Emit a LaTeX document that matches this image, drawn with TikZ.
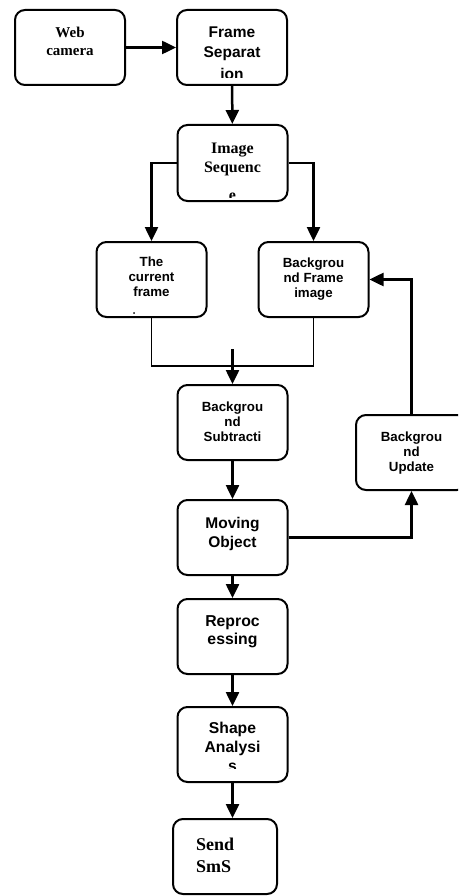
\documentclass[tikz,border=0pt]{standalone}
\usepackage{fontspec}
\usepackage{tikz}
\usetikzlibrary{arrows.meta, calc}
\newfontfamily\lblsans{Liberation Sans}
\newfontfamily\lblserif{Liberation Serif}
\tikzset{
  arr/.style={-{Triangle[length=14pt,width=13pt]}, line width=2.5pt},
  feed/.style={line width=1.1pt},
  procbox/.style={rectangle, rounded corners=10pt, draw, line width=2pt, minimum width=110pt, minimum height=75pt, inner sep=0pt},
  sanslbl/.style 2 args={font=\lblsans\bfseries\fontsize{#1}{#2}\selectfont, align=center, inner sep=0pt, anchor=north},
  seriflbl/.style 2 args={font=\lblserif\bfseries\fontsize{#1}{#2}\selectfont, align=center, inner sep=0pt, anchor=north},
}
% name, clip inset, top offset, label style, text
\newcommand{\boxtext}[5]{%
  \begin{scope}
    \clip ($(#1.south west)+(0,-#2)$) rectangle (#1.north east);
    \node[#4] (#1-txt) at ($(#1.north)+(0,#3)$) {#5};
  \end{scope}}

\begin{document}
\begin{tikzpicture}[x=1pt, y=-1pt]
  \clip (0,0) rectangle (458,896);

  % Boxes
  \node[procbox] (cam) at (70,47.5) {};
  \node[procbox] (frame) at (232,47.5) {};
  \node[procbox, minimum height=76pt] (seq) at (232.5,163) {};
  \node[procbox] (cur) at (151.5,279.5) {};
  \node[procbox] (bgf) at (313.5,279.5) {};
  \node[procbox] (sub) at (232.5,422.5) {};
  \node[procbox, minimum width=111pt] (bgu) at (411.5,452.5) {};
  \node[procbox] (mov) at (232.5,537.5) {};
  \node[procbox] (rep) at (232.5,636.5) {};
  \node[procbox] (shp) at (232.5,744.5) {};
  \node[procbox, minimum width=104pt] (sms) at (225,856.5) {};

  % Labels
  \boxtext{cam}{5}{18}{seriflbl={15}{18}}{Web\\camera}
  \boxtext{frame}{8}{18}{sanslbl={15.5}{20}}{Frame\\Separat\\[2pt]ion}
  \boxtext{seq}{5}{19}{seriflbl={16}{19}}{Image\\Sequenc\\[9pt]e}
  \boxtext{cur}{5}{16}{sanslbl={13.3}{15}}{The\\current\\frame\\[11pt]image}
  \boxtext{bgf}{5}{17}{sanslbl={13.3}{15}}{Backgrou\\nd Frame\\image}
  \boxtext{sub}{5}{18}{sanslbl={13.3}{15}}{Backgrou\\nd\\Subtracti}
  \boxtext{bgu}{5}{18}{sanslbl={13.3}{15}}{Backgrou\\nd\\Update}
  \boxtext{mov}{5}{18}{sanslbl={15.5}{19}}{Moving\\Object}
  \boxtext{rep}{5}{17}{sanslbl={15.8}{18}}{Reproc\\essing}
  \boxtext{shp}{15}{16}{sanslbl={15.7}{19}}{Shape\\Analysi\\s}
  \boxtext{sms}{2}{20}{seriflbl={18}{22}, anchor=north west, align=left, xshift=-29pt}{Send\\SmS}

  % Main flow
  \draw[arr] (cam) -- (frame);
  \draw[arr] (frame) -- (seq);
  \draw[arr] (seq.west) -| (cur.north);
  \draw[arr] (seq.east) -| (bgf.north);
  \draw[feed] (cur.south) -- ++(0,48) -| (bgf.south);
  \coordinate (mrg) at (232.5,349);
  \draw[arr] (mrg) -- (sub.north);
  \draw[arr] (sub) -- (mov);
  \draw[arr] (mov) -- (rep);
  \draw[arr] (rep) -- (shp);
  \draw[arr] (shp.south) -- (shp.south |- sms.north);

  % Update loop
  \draw[arr] (mov.east) -| (bgu.south);
  \draw[arr] (bgu.north) |- (bgf.east);
\end{tikzpicture}
\end{document}
